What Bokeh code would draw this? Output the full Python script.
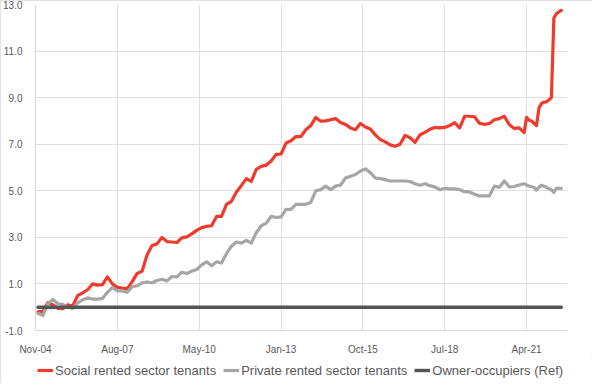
from bokeh.plotting import figure
from bokeh.layouts import column
from bokeh.models import FixedTicker, Legend, LegendItem, ColumnDataSource
from bokeh.embed import file_html
from bokeh.resources import INLINE

# ---- data -----------------------------------------------------------------
tick_positions = [0, 33, 66, 99, 132, 165, 198]
tick_labels = ["Nov-04", "Aug-07", "May-10", "Jan-13", "Oct-15", "Jul-18", "Apr-21"]
y_ticks = [-1, 1, 3, 5, 7, 9, 11, 13]

# period index along the category axis (0 = Nov-04)
periods = list(range(1, 197, 2)) + list(range(197, 213))

social = [
    -0.2, -0.18, 0.2, 0.1, -0.05, -0.06, 0.1, 0.05, 0.5, 0.62,
    0.75, 1.0, 0.95, 0.97, 1.3, 1.0, 0.85, 0.82, 0.8, 1.1,
    1.45, 1.55, 2.25, 2.65, 2.72, 3.0, 2.82, 2.8, 2.78, 2.98,
    3.02, 3.15, 3.3, 3.42, 3.47, 3.5, 3.9, 3.9, 4.42, 4.55,
    4.95, 5.22, 5.52, 5.4, 5.92, 6.05, 6.1, 6.28, 6.56, 6.58,
    7.05, 7.15, 7.33, 7.33, 7.62, 7.8, 8.15, 7.99, 8.0, 8.05,
    8.1, 7.93, 7.85, 7.7, 7.62, 7.89, 7.74, 7.65, 7.4, 7.2,
    7.1, 6.97, 6.91, 7.0, 7.38, 7.28, 7.08, 7.4, 7.51, 7.64,
    7.72, 7.7, 7.72, 7.8, 7.93, 7.7, 8.2, 8.2, 8.18, 7.9,
    7.85, 7.89, 8.05, 8.1, 8.2, 7.85, 7.68, 7.7,
    7.5, 8.15, 8.03, 8.0, 7.9, 7.8, 8.55, 8.75, 8.8, 8.82,
    8.9, 9.0, 12.42, 12.6, 12.68, 12.75,
]

private = [
    -0.27, -0.35, 0.15, 0.33, 0.15, 0.12, 0.0, -0.05, 0.18, 0.32,
    0.4, 0.35, 0.35, 0.38, 0.64, 0.85, 0.7, 0.7, 0.65, 0.88,
    0.92, 1.05, 1.08, 1.05, 1.15, 1.2, 1.13, 1.32, 1.3, 1.5,
    1.45, 1.55, 1.62, 1.82, 1.95, 1.78, 1.95, 1.9, 2.3, 2.62,
    2.8, 2.75, 2.87, 2.75, 3.2, 3.5, 3.6, 3.9, 3.85, 3.88,
    4.2, 4.2, 4.42, 4.42, 4.42, 4.5, 5.0, 5.05, 5.2, 5.05,
    5.2, 5.24, 5.55, 5.62, 5.7, 5.85, 5.94, 5.78, 5.55, 5.52,
    5.48, 5.42, 5.42, 5.42, 5.42, 5.4, 5.3, 5.24, 5.3, 5.22,
    5.17, 5.05, 5.1, 5.08, 5.08, 5.05, 4.96, 4.95, 4.85, 4.78,
    4.78, 4.78, 5.2, 5.15, 5.42, 5.17, 5.18, 5.25,
    5.3, 5.25, 5.2, 5.17, 5.15, 5.03, 5.15, 5.24, 5.2, 5.15,
    5.08, 5.05, 4.93, 5.1, 5.1, 5.1,
]

owner = [0.0] * len(periods)

series_names = ["Social rented sector tenants", "Private rented sector tenants",
                "Owner-occupiers (Ref)"]
series_cols = ["social", "private", "owner"]
series_colors = ["#EF3B2C", "#A6A6A6", "#555555"]
series_widths = [3.2, 3.2, 3.4]

src = ColumnDataSource(dict(x=periods, social=social, private=private, owner=owner))

# ---- main figure ----------------------------------------------------------
FONT = "Liberation Sans"
p = figure(width=592, height=357, output_backend="svg", toolbar_location=None,
           x_range=(0, 214.5), y_range=(-1, 13),
           min_border_left=10, min_border_right=25, min_border_top=4,
           min_border_bottom=18)
p.outline_line_color = None
p.background_fill_color = "white"
p.border_fill_color = "white"

for col, color, w in zip(series_cols, series_colors, series_widths):
    p.line("x", col, source=src, line_color=color, line_width=w,
           line_join="round", line_cap="round")

p.xaxis.ticker = FixedTicker(ticks=tick_positions)
p.xaxis.major_label_overrides = {t: l for t, l in zip(tick_positions, tick_labels)}
p.yaxis.ticker = FixedTicker(ticks=y_ticks)
p.yaxis.major_label_overrides = {t: f"{t:.1f}" for t in y_ticks}
for ax in (p.xaxis, p.yaxis):
    ax.major_tick_line_color = None
    ax.minor_tick_line_color = None
    ax.axis_line_color = "#d9d9d9"
    ax.major_label_text_font = FONT
    ax.major_label_text_font_size = "10px"
    ax.major_label_text_color = "#595959"
p.yaxis.major_label_standoff = 7
p.xaxis.major_label_standoff = 7

p.xgrid.ticker = FixedTicker(ticks=tick_positions)
p.ygrid.ticker = FixedTicker(ticks=y_ticks)
p.xgrid.grid_line_color = "#e0e0e0"
p.ygrid.grid_line_color = "#e0e0e0"

# ---- legend strip (same series, drawn outside this strip's view) ---------
lf = figure(width=592, height=26, output_backend="svg", toolbar_location=None,
            x_range=(-40, -30), y_range=(-40, -30), x_axis_type=None,
            y_axis_type=None, min_border=0)
lf.outline_line_color = None
lf.background_fill_color = "white"
lf.border_fill_color = "white"
items = []
for name, col, color, w in zip(series_names, series_cols, series_colors, series_widths):
    r = lf.line("x", col, source=src, line_color=color, line_width=w)
    items.append(LegendItem(label=name, renderers=[r]))

legend = Legend(items=items, orientation="horizontal", location=(2, 3),
                glyph_width=16, glyph_height=20, label_height=20,
                label_standoff=2, spacing=7,
                padding=0, margin=0, border_line_alpha=0, background_fill_alpha=0,
                label_text_font=FONT, label_text_font_size="13px",
                label_text_color="#595959")
lf.add_layout(legend)

layout = column(p, lf, spacing=0)
layout.styles = {"outline": "1px solid #d9d9d9", "outline-offset": "-1px"}

open("out.html", "w").write(file_html(layout, INLINE))
